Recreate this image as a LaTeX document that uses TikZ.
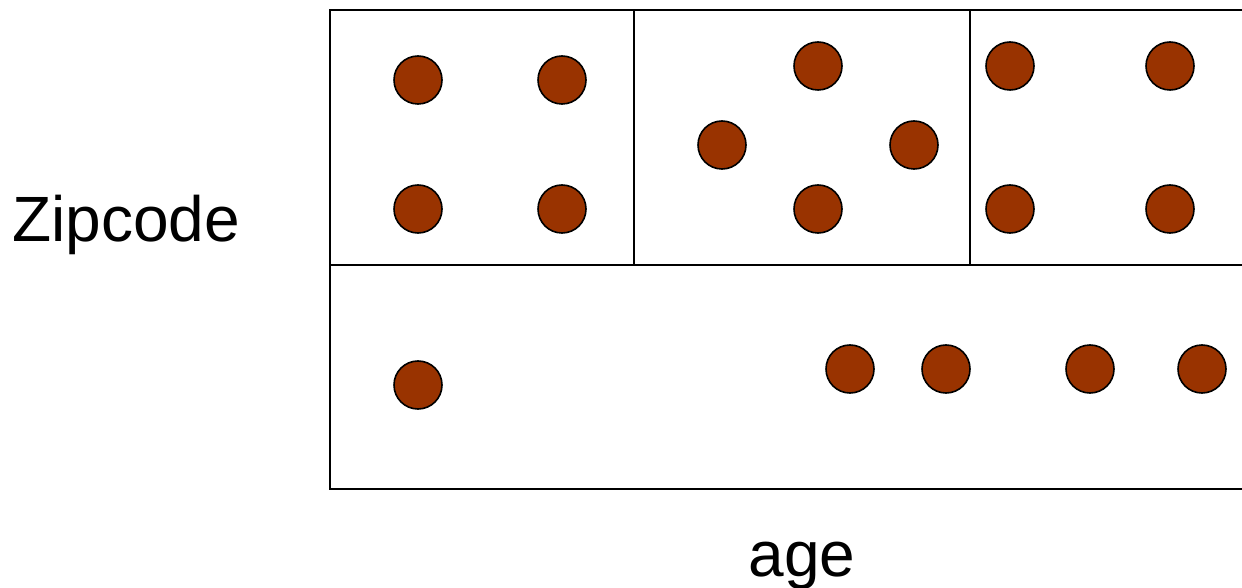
\documentclass[tikz,border=0pt]{standalone}
\usepackage{fontspec}
\setmainfont{Liberation Sans}
\definecolor{dotbrown}{HTML}{993300}
\begin{document}
\begin{tikzpicture}[x=0.5pt,y=-0.5pt,
  dot/.style={circle,draw=black,line width=0.8pt,fill=dotbrown,minimum size=24pt,inner sep=0pt},
  frame/.style={line width=1pt,draw=black},
  lbl/.style={font=\fontsize{32}{36}\selectfont,inner sep=0pt}]
\useasboundingbox (0,0) rectangle (1242,588);
\coordinate (tl) at (330,10);
\coordinate (tr) at (1242,10);
\coordinate (ml) at (330,265);
\coordinate (mr) at (1242,265);
\coordinate (bl) at (330,489);
\coordinate (br) at (1242,489);
\coordinate (v1t) at (634,10);
\coordinate (v1b) at (634,265);
\coordinate (v2t) at (970,10);
\coordinate (v2b) at (970,265);
\draw[frame] (tr) -- (tl) -- (bl) -- (br);
\draw[frame] (ml) -- (mr);
\draw[frame] (v1t) -- (v1b);
\draw[frame] (v2t) -- (v2b);
\foreach \n/\x/\y in {a/418/80,b/562/80,c/418/209,d/562/209,
  e/818/66,f/722/145,g/914/145,h/818/209,
  i/1010/66,j/1170/66,k/1010/209,l/1170/209,
  m/418/385,n/850/369,o/946/369,p/1090/369,q/1202/369}
  \node[dot] (\n) at (\x,\y) {};
\node[lbl,anchor=base] (zip) at (126,242) {Zipcode};
\node[lbl,anchor=base] (age) at (802,576) {age};
\end{tikzpicture}
\end{document}
